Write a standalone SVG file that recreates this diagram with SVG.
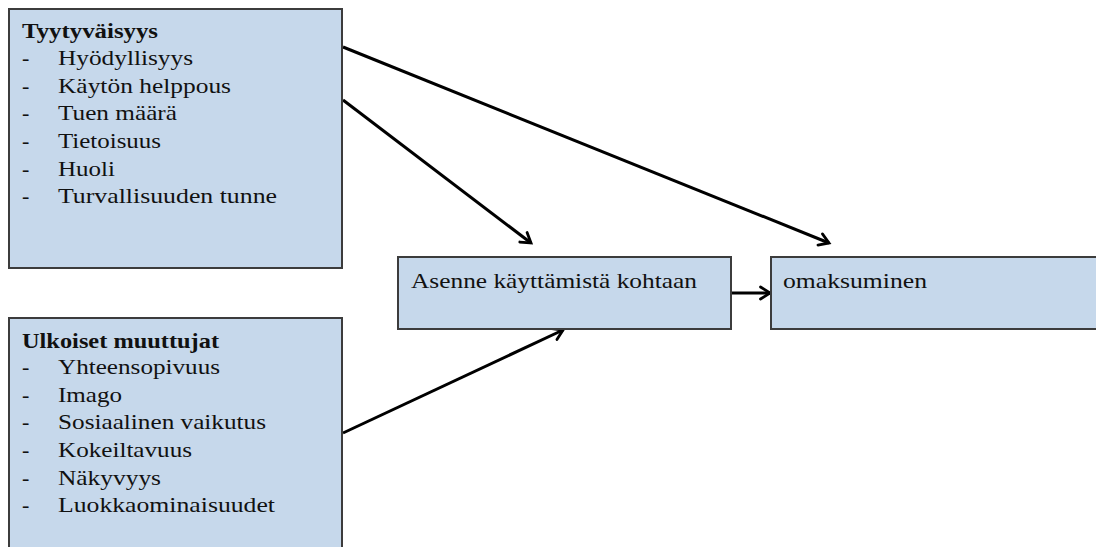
<svg xmlns="http://www.w3.org/2000/svg" width="1096" height="547" viewBox="0 0 1096 547">
<style>
.box{fill:#c6d8eb;stroke:#3c3c3c;stroke-width:2}
text{font-family:"Liberation Serif","Times New Roman",serif;font-size:22px;fill:#111}
.b{font-weight:bold}
.c{fill:none;stroke:#000;stroke-width:3}
</style>
<defs>
<marker id="ah" viewBox="0 0 16 16" refX="13" refY="8" markerWidth="16" markerHeight="16" markerUnits="userSpaceOnUse" orient="auto">
<polyline points="3.5,2 13,8 3.5,14" fill="none" stroke="#000" stroke-width="2.8" stroke-linecap="round" stroke-linejoin="miter"/>
</marker>
</defs>
<g id="connectors">
<line class="c" x1="343" y1="47" x2="829" y2="243" marker-end="url(#ah)"/>
<line class="c" x1="343" y1="100" x2="531" y2="243" marker-end="url(#ah)"/>
<line class="c" x1="343" y1="433" x2="563" y2="330" marker-end="url(#ah)"/>
<line class="c" x1="732" y1="293" x2="770" y2="293" marker-end="url(#ah)"/>
</g>
<g id="tyytyvaisyys">
<rect class="box" x="9" y="9" width="333" height="259"/>
<text class="b" x="22" y="38" textLength="136" lengthAdjust="spacingAndGlyphs">Tyytyväisyys</text>
<text x="22" y="65">-</text><text x="58" y="65" textLength="135" lengthAdjust="spacingAndGlyphs">Hyödyllisyys</text>
<text x="22" y="93">-</text><text x="58" y="93" textLength="173" lengthAdjust="spacingAndGlyphs">Käytön helppous</text>
<text x="22" y="120">-</text><text x="58" y="120" textLength="119" lengthAdjust="spacingAndGlyphs">Tuen määrä</text>
<text x="22" y="148">-</text><text x="58" y="148" textLength="103" lengthAdjust="spacingAndGlyphs">Tietoisuus</text>
<text x="22" y="176">-</text><text x="58" y="176" textLength="57" lengthAdjust="spacingAndGlyphs">Huoli</text>
<text x="22" y="203">-</text><text x="58" y="203" textLength="219" lengthAdjust="spacingAndGlyphs">Turvallisuuden tunne</text>
</g>
<g id="ulkoiset">
<rect class="box" x="9" y="318" width="333" height="240"/>
<text class="b" x="22" y="348" textLength="197" lengthAdjust="spacingAndGlyphs">Ulkoiset muuttujat</text>
<text x="22" y="374">-</text><text x="58" y="374" textLength="162" lengthAdjust="spacingAndGlyphs">Yhteensopivuus</text>
<text x="22" y="402">-</text><text x="58" y="402" textLength="64" lengthAdjust="spacingAndGlyphs">Imago</text>
<text x="22" y="429">-</text><text x="58" y="429" textLength="208" lengthAdjust="spacingAndGlyphs">Sosiaalinen vaikutus</text>
<text x="22" y="457">-</text><text x="58" y="457" textLength="134" lengthAdjust="spacingAndGlyphs">Kokeiltavuus</text>
<text x="22" y="485">-</text><text x="58" y="485" textLength="103" lengthAdjust="spacingAndGlyphs">Näkyvyys</text>
<text x="22" y="512">-</text><text x="58" y="512" textLength="217" lengthAdjust="spacingAndGlyphs">Luokkaominaisuudet</text>
</g>
<g id="asenne">
<rect class="box" x="398" y="257" width="333" height="72"/>
<text x="411" y="288" textLength="286" lengthAdjust="spacingAndGlyphs">Asenne käyttämistä kohtaan</text>
</g>
<g id="omaksuminen">
<rect class="box" x="771" y="257" width="330" height="72"/>
<text x="783" y="288" textLength="144" lengthAdjust="spacingAndGlyphs">omaksuminen</text>
</g>
</svg>
